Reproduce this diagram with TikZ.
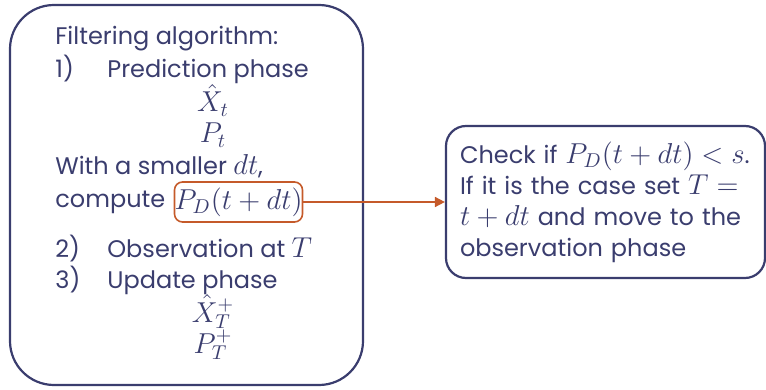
\documentclass[tikz,border=0pt]{standalone}
\usepackage{fontspec}
\setmainfont{Poppins}
\DeclareMathSizes{12}{13.5}{10}{8}
\usetikzlibrary{positioning, arrows.meta}
\definecolor{navy}{RGB}{58,61,110}
\definecolor{rust}{RGB}{197,90,42}

\begin{document}
\begin{tikzpicture}[
    x=0.5pt, y=-0.5pt,
    frame/.style={rectangle, draw=navy, line width=1.1pt, inner sep=0pt},
    line/.style={anchor=base west, inner sep=0pt, text=navy,
                 font=\fontsize{12}{15}\selectfont},
    eq/.style={anchor=base, inner sep=0pt, text=navy,
               font=\fontsize{12}{15}\selectfont},
    hilite/.style={rectangle, draw=rust, line width=0.8pt, rounded corners=4pt,
                 minimum width=62pt, minimum height=20pt, inner sep=0pt,
                 text=navy, font=\fontsize{12}{15}\selectfont},
    arr/.style={-{Triangle[length=5pt, width=5pt]}, draw=rust, fill=rust, line width=0.8pt}
]
\useasboundingbox (0,0) rectangle (766,390);

% left: the filtering algorithm
\node[frame, rounded corners=22pt, minimum width=176.5pt, minimum height=190pt]
    (algo) at (186.5,195) {};
\node[line] (title) at (55,45) {Filtering algorithm:};
\node[line] (step1) at (55,78) {\makebox[26pt][l]{1)}Prediction phase};
\node[eq] (xt) at (213,112) {$\hat{X}_t$};
\node[eq] (pt) at (213,143) {$P_t$};
\node[line] (smaller) at (55,175) {With a smaller $dt$,};
\node[line] (compute) at (55,207) {compute};
\node[hilite] (pd) at (238.5,202) {$P_D(t+dt)$};
\node[line] (step2) at (55,257) {\makebox[26pt][l]{2)}Observation at $T$};
\node[line] (step3) at (55,288) {\makebox[26pt][l]{3)}Update phase};
\node[eq] (xtp) at (213,322) {$\hat{X}_T^+$};
\node[eq] (ptp) at (213,353) {$P_T^+$};

% right: the stopping check
\node[frame, rounded corners=10pt, minimum width=159.5pt, minimum height=76pt,
      inner xsep=7pt, text width=145.5pt, align=left, text=navy,
      font=\fontsize{12}{15.5}\selectfont]
    (check) at (605.5,202)
    {Check if $P_D(t+dt)<s$.\\If it is the case set $T=$\\$t+dt$ and move to the\\observation phase};

\draw[arr] (pd.east) -- (check.west);
\end{tikzpicture}
\end{document}
